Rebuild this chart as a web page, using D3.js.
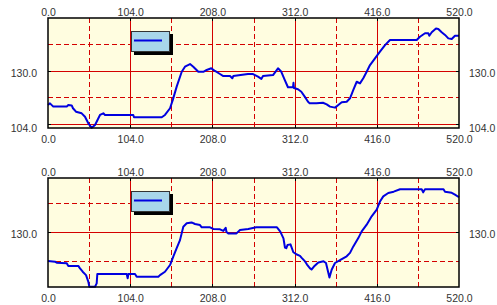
<!DOCTYPE html>
<html>
<head>
<meta charset="utf-8">
<script src="https://cdn.jsdelivr.net/npm/d3@7"></script>
<style>
  body { margin: 0; background: #fff; }
  svg { display: block; font-family: "Liberation Sans", Arial, sans-serif; }
</style>
</head>
<body>
<svg id="chart" width="497" height="305"></svg>
<script>
// x ticks shared by both panels
const xMajor = [0, 104, 208, 312, 416, 520]
const xMinor = [52, 156, 260, 364, 468]

// top panel
const topX = [0, 2.5, 6.7, 23.7, 25.7, 30, 31.6, 35.4, 42.6, 46.8, 51, 55.3, 59.5, 65.8, 70, 72.1,
  107.9, 108.8, 143.9, 148, 154.4, 157.8, 162.8, 169.2, 173.3, 179.7, 183.8, 190.2, 196.5, 200.8,
  206.6, 211.3, 217.6, 221.8, 230.3, 233.2, 234.4, 253, 259.4, 265.7, 269.9, 272, 284.7, 291,
  295.2, 299.5, 303.6, 310, 310.6, 311.2, 316.3, 320.5, 324.8, 329, 331.1, 339.5, 347.9, 352.6,
  356.8, 363.1, 367.3, 371.6, 377.9, 382.1, 386.3, 390.6, 394.7, 398.9, 403.2, 407.4, 413.7, 420,
  426.4, 432.7, 466.5, 470.6, 477, 481.2, 482.4, 485.5, 490.9, 493.8, 498.1, 502.3, 506.5, 510.8,
  514.9, 520]
const topVals = [113.3, 114.1, 112.5, 112.5, 113.3, 113.1, 111.7, 110.0, 109.2, 107.5, 104.3, 102.1,
  103.5, 108.4, 109.2, 108.4, 108.4, 107.3, 107.3, 108.4, 111.7, 115.7, 122.3, 129.6, 132.1, 133.4,
  132.1, 129.6, 129.6, 130.5, 131.3, 130.0, 128.5, 127.5, 127.5, 126.4, 127.5, 128.5, 128.5, 127.2,
  126.1, 127.5, 128.0, 131.3, 129.6, 125.6, 122.0, 122.0, 124.2, 121.6, 121.0, 119.8, 117.4, 114.9,
  114.1, 114.1, 114.4, 113.6, 112.5, 112.0, 113.3, 114.6, 114.9, 116.6, 120.7, 124.7, 123.9, 126.4,
  129.6, 132.9, 136.2, 139.5, 142.7, 145.2, 145.2, 146.8, 148.5, 148.5, 147.3, 149.0, 150.8, 150.6,
  149.0, 147.7, 146.0, 145.7, 147.3, 147.3]
const topYMajor = [104, 130]
const topYMinor = [117, 143]
const topYLabels = [104, 130]

// bottom panel
const botX = [0, 8.9, 11, 23.7, 25.7, 38.3, 40.5, 43.9, 48.1, 51, 52.3, 59.5, 61.6, 62.4, 65.8,
  99.6, 100.8, 101.8, 110.1, 112.2, 139.6, 141.7, 148, 154.4, 158.5, 162.8, 167, 171.2, 175.5,
  181.6, 186, 192.3, 194.5, 205, 209.1, 217.6, 221.8, 224.8, 225.8, 228.1, 238.5, 242.9, 253.4,
  263.5, 289.7, 293.9, 297.9, 299.8, 301.5, 303, 306.8, 310.4, 314.2, 318.8, 320.7, 325.2, 327.7,
  331.5, 333.4, 336.5, 342, 348.6, 351.7, 356.1, 358.9, 363.1, 369.4, 377.9, 382.1, 386.3, 392.6,
  396.9, 403.2, 409.5, 415.9, 420, 424.2, 430.5, 437.4, 445.4, 472.8, 474.7, 477, 500.4, 502.3,
  510.8, 514.9, 520]
const botVals = [117.2, 116.9, 116.4, 116.2, 115.0, 115.0, 113.9, 112.4, 110.9, 108.0, 105.7, 105.7,
  107.2, 111.4, 111.4, 111.4, 109.5, 111.4, 111.4, 110.2, 110.2, 110.9, 112.4, 115.4, 119.1, 122.9,
  126.5, 132.5, 134.0, 134.4, 133.7, 133.2, 132.2, 132.2, 131.5, 131.3, 130.6, 132.0, 130.1, 129.5,
  129.5, 131.0, 131.5, 132.2, 132.2, 130.3, 127.3, 123.2, 122.9, 124.3, 124.6, 121.1, 120.2, 119.5,
  118.7, 117.0, 115.6, 113.9, 113.4, 114.7, 116.5, 117.1, 116.3, 109.8, 113.3, 116.3, 117.6, 119.3,
  120.8, 123.7, 127.4, 130.4, 133.4, 137.1, 140.1, 143.7, 146.0, 147.5, 148.1, 149.2, 149.2, 147.8,
  149.2, 149.2, 148.1, 147.6, 146.8, 145.6]
const botYMajor = [130]
const botYMinor = [117, 143]
const botYLabels = [130]

const svg = d3.select('#chart')
const fmt = d3.format('.1f')
const gridColor = '#d40000'

const panels = [
  { xs: topX, ys: topVals, top: 18, bottom: 128, yDomain: [102, 156],
    yMajor: topYMajor, yMinor: topYMinor, yLabels: topYLabels },
  { xs: botX, ys: botVals, top: 178, bottom: 287, yDomain: [105.6, 154.2],
    yMajor: botYMajor, yMinor: botYMinor, yLabels: botYLabels }
]

panels.forEach((p) => {
  const x = d3.scaleLinear().domain([0, 520]).range([48, 459])
  const y = d3.scaleLinear().domain(p.yDomain).range([p.bottom, p.top])
  const g = svg.append('g')

  g.append('rect')
    .attr('x', 48).attr('y', p.top)
    .attr('width', 411).attr('height', p.bottom - p.top)
    .attr('fill', '#fffde0')

  // vertical grid
  g.selectAll('.vmin').data(xMinor).enter().append('line')
    .attr('x1', (d) => Math.round(x(d)) + 0.5).attr('x2', (d) => Math.round(x(d)) + 0.5)
    .attr('y1', p.top).attr('y2', p.bottom)
    .attr('stroke', gridColor).attr('stroke-dasharray', '5,3')
  g.selectAll('.vmaj').data(xMajor.slice(1, -1)).enter().append('line')
    .attr('x1', (d) => Math.round(x(d)) + 0.5).attr('x2', (d) => Math.round(x(d)) + 0.5)
    .attr('y1', p.top).attr('y2', p.bottom)
    .attr('stroke', gridColor)

  // horizontal grid
  g.selectAll('.hmin').data(p.yMinor).enter().append('line')
    .attr('x1', 48).attr('x2', 459)
    .attr('y1', (d) => Math.round(y(d)) + 0.5).attr('y2', (d) => Math.round(y(d)) + 0.5)
    .attr('stroke', gridColor).attr('stroke-dasharray', '5,3')
  g.selectAll('.hmaj').data(p.yMajor).enter().append('line')
    .attr('x1', 48).attr('x2', 459)
    .attr('y1', (d) => Math.round(y(d)) + 0.5).attr('y2', (d) => Math.round(y(d)) + 0.5)
    .attr('stroke', gridColor)

  // small dark ticks inside the frame
  const tk = g.append('g').attr('stroke', '#000')
  xMajor.slice(1, -1).forEach((d) => {
    const xx = Math.round(x(d)) + 0.5
    tk.append('line').attr('x1', xx).attr('x2', xx).attr('y1', p.top).attr('y2', p.top + 3)
    tk.append('line').attr('x1', xx).attr('x2', xx).attr('y1', p.bottom - 3).attr('y2', p.bottom)
  })
  p.yMajor.forEach((d) => {
    const yy = Math.round(y(d)) + 0.5
    tk.append('line').attr('x1', 48).attr('x2', 51).attr('y1', yy).attr('y2', yy)
    tk.append('line').attr('x1', 456).attr('x2', 459).attr('y1', yy).attr('y2', yy)
  })

  // data line
  const pts = p.xs.map((d, i) => [d, p.ys[i]])
  g.append('path')
    .datum(pts)
    .attr('fill', 'none')
    .attr('stroke', '#0000e0')
    .attr('stroke-width', 2)
    .attr('stroke-linejoin', 'round')
    .attr('d', d3.line().x((d) => x(d[0])).y((d) => y(d[1])))

  // frame
  g.append('rect')
    .attr('x', 48).attr('y', p.top)
    .attr('width', 411).attr('height', p.bottom - p.top)
    .attr('fill', 'none').attr('stroke', '#000').attr('stroke-width', 1.5)

  // axes (labels only)
  const styleAxis = (sel) => {
    sel.select('.domain').remove()
    sel.selectAll('text').attr('fill', '#333').style('font-size', '10.5px')
      .style('font-family', '"Liberation Sans", Arial, sans-serif')
  }
  g.append('g').attr('transform', `translate(0,${p.top - 2})`)
    .call(d3.axisTop(x).tickValues(xMajor).tickFormat(fmt).tickSize(0).tickPadding(0))
    .call(styleAxis)
  g.append('g').attr('transform', `translate(0,${p.bottom + 3})`)
    .call(d3.axisBottom(x).tickValues(xMajor).tickFormat(fmt).tickSize(0).tickPadding(5))
    .call(styleAxis)
  const shiftLow = (sel) => sel.selectAll('.tick text')
    .attr('dy', (d) => (d === 104 ? '0.6em' : '0.4em'))
  g.append('g').attr('transform', 'translate(37,1)')
    .call(d3.axisLeft(y).tickValues(p.yLabels).tickFormat(fmt).tickSize(0).tickPadding(0))
    .call(styleAxis).call(shiftLow)
  g.append('g').attr('transform', 'translate(469,1)')
    .call(d3.axisRight(y).tickValues(p.yLabels).tickFormat(fmt).tickSize(0).tickPadding(0))
    .call(styleAxis).call(shiftLow)

  // legend
  const lg = g.append('g').attr('transform', `translate(131,${p.top + 13})`)
  lg.append('rect').attr('x', 3).attr('y', 3).attr('width', 39).attr('height', 21).attr('fill', '#000')
  lg.append('rect').attr('x', 0.5).attr('y', 0.5).attr('width', 38).attr('height', 20)
    .attr('fill', '#a8d6ea').attr('stroke', '#333')
  lg.append('line').attr('x1', 3).attr('x2', 31).attr('y1', 9.5).attr('y2', 9.5)
    .attr('stroke', '#0000e0').attr('stroke-width', 2)
})
</script>
</body>
</html>
